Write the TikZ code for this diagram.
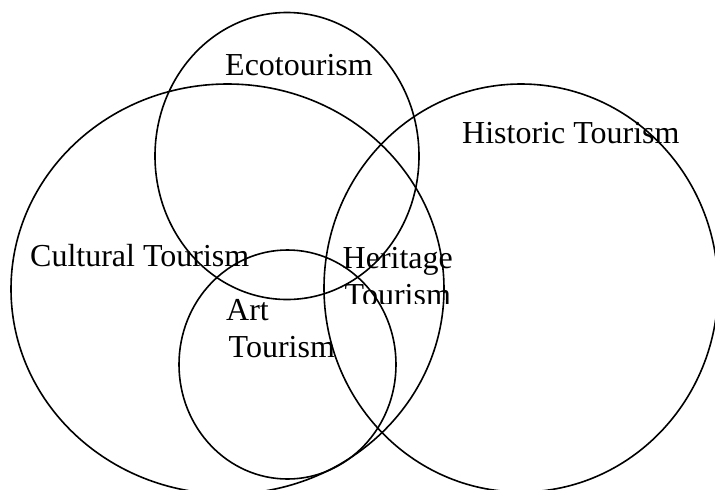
\documentclass[tikz,border=0pt]{standalone}
\usepackage{fontspec}
\setmainfont{Liberation Serif}
\begin{document}
\begin{tikzpicture}[x=1pt,y=-1pt,
  ring/.style={line width=1.6pt, draw=black},
  lbl/.style={inner sep=0pt, anchor=base west, font=\fontsize{32}{37}\selectfont, text=black}]
\useasboundingbox (0,0) rectangle (715,490);
\clip (0,0) rectangle (715,490);
% sets
\draw[ring] (227.5,289) ellipse [x radius=216.5, y radius=205];
\draw[ring] (287,156) ellipse [x radius=132, y radius=143.5];
\draw[ring] (521,288) ellipse [x radius=197, y radius=204];
\draw[ring] (287.5,364.5) ellipse [x radius=108.5, y radius=114.5];
% labels
\node[lbl] (eco) at (225,75) {Ecotourism};
\node[lbl] (hist) at (462,143.3) {Historic Tourism};
\node[lbl] (cult) at (30,266) {Cultural Tourism};
\node[lbl] (art1) at (226,320.7) {Art};
\node[lbl] (art2) at (228.5,357.3) {Tourism};
\node[lbl] (her1) at (342.5,268.3) {Heritage};
\begin{scope}
  \clip (330,280) rectangle (470,303);
  \node[lbl] (her2) at (344.5,305) {Tourism};
\end{scope}
\end{tikzpicture}
\end{document}
